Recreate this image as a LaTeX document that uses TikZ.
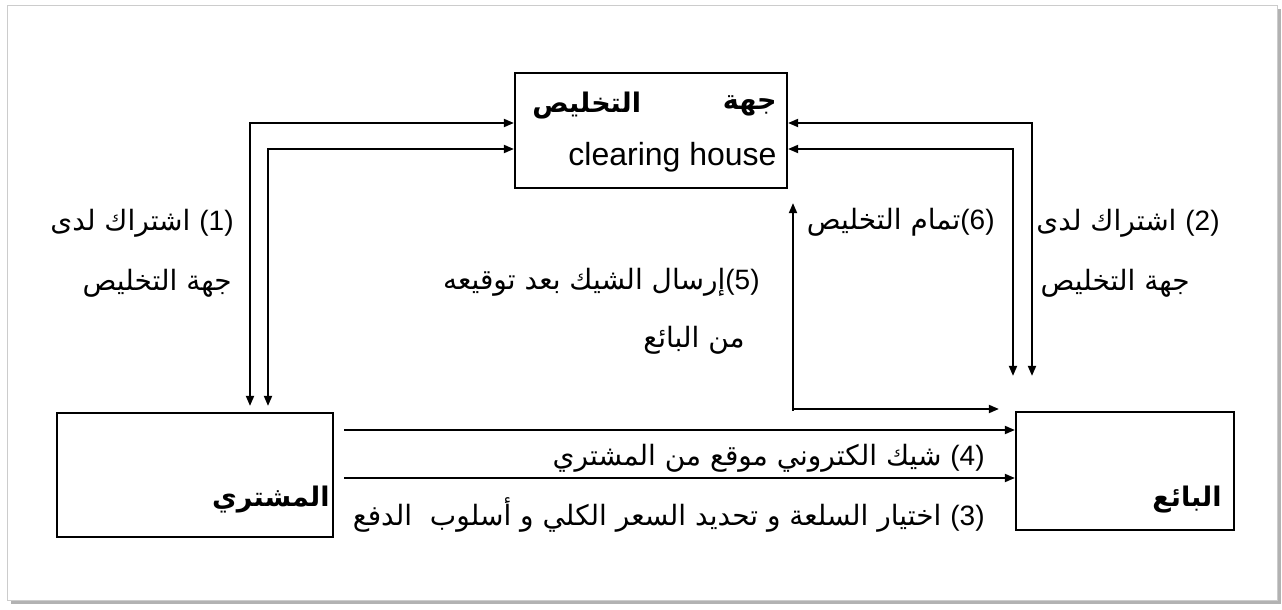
\documentclass[tikz,border=0pt]{standalone}
\usepackage{fontspec}
\setmainfont{Liberation Sans}
\newfontfamily\arabicfont[Script=Arabic]{DejaVu Sans}
\TeXXeTstate=1
\usepackage{tikz}
\usetikzlibrary{arrows.meta,positioning,calc}

\newcommand{\artext}[1]{{\arabicfont\beginR #1\endR}}
\newcommand{\stepno}[1]{\beginL{\normalfont(#1)}\endL}

\begin{document}
\begin{tikzpicture}[x=0.5pt,y=-0.5pt,
  box/.style={draw,line width=1.1pt,inner sep=0pt},
  lbl/.style={inner sep=0pt,anchor=east,font=\fontsize{14}{17}\selectfont},
  title/.style={inner sep=0pt,anchor=east,font=\fontsize{13.5}{16}\selectfont\bfseries},
  link/.style={line width=0.9pt,-{Triangle[length=5pt,width=4pt]}},
  both/.style={line width=0.9pt,{Triangle[length=5pt,width=4pt]}-{Triangle[length=5pt,width=4pt]}}]
  \useasboundingbox (0,0) rectangle (1282,610);
  \fill[black!30] (11,9) rectangle (1281,604);
  \draw[black!20,fill=white] (7,5) rectangle (1277,600);

  \node[box,minimum width=136pt,minimum height=57.5pt] (clearing) at (651,130.5) {};
  \node[box,minimum width=138pt,minimum height=62pt] (buyer) at (195,475) {};
  \node[box,minimum width=109pt,minimum height=59pt] (seller) at (1125,471) {};

  \node[title] (chA) at (777,106) {\artext{جهة}};
  \node[title,anchor=west] (chB) at (532,106) {\artext{التخليص}};
  \node[inner sep=0pt,anchor=east,font=\fontsize{16}{19}\selectfont] (chC) at (777,157) {clearing house};
  \node[title] (buyerlbl) at (330,500) {\artext{المشتري}};
  \node[title] (sellerlbl) at (1222,500) {\artext{البائع}};

  \draw[both,shorten >=3pt] (clearing.west |- 0,123) -| (buyer.north -| 250,0);
  \draw[both,shorten >=3pt] (clearing.west |- 0,149) -| (buyer.north -| 268,0);
  \draw[both,shorten >=17.5pt] (clearing.east |- 0,123) -| (seller.north -| 1032,0);
  \draw[both,shorten >=17.5pt] (clearing.east |- 0,149) -| (seller.north -| 1013,0);
  \draw[link,shorten >=7pt] (seller.north -| 793,0) -- (clearing.south -| 793,0);
  \coordinate (corner) at (793,409);
  \draw[link,shorten >=8pt] (corner) -- (corner -| seller.west);
  \draw[link,shorten <=5pt] (buyer.east |- 0,430) -- (seller.west |- 0,430);
  \draw[link,shorten <=5pt] (buyer.east |- 0,478) -- (seller.west |- 0,478);

  \node[lbl] (n1a) at (234,223) {\artext{\stepno{1} اشتراك لدى}};
  \node[lbl] (n1b) at (232,283) {\artext{جهة التخليص}};
  \node[lbl] (n2a) at (1220,223) {\artext{\stepno{2} اشتراك لدى}};
  \node[lbl] (n2b) at (1190,283) {\artext{جهة التخليص}};
  \node[lbl] (n6) at (995,222) {\artext{\stepno{6}تمام التخليص}};
  \node[lbl] (n5a) at (760,282) {\artext{\stepno{5}إرسال الشيك بعد توقيعه}};
  \node[lbl] (n5b) at (745,340) {\artext{من البائع}};
  \node[lbl] (n4) at (985,458) {\artext{\stepno{4} شيك الكتروني موقع من المشتري}};
  \node[lbl] (n3) at (985,515) {\artext{\stepno{3} اختيار السلعة و تحديد السعر الكلي و أسلوب\ \ الدفع}};
\end{tikzpicture}
\end{document}
